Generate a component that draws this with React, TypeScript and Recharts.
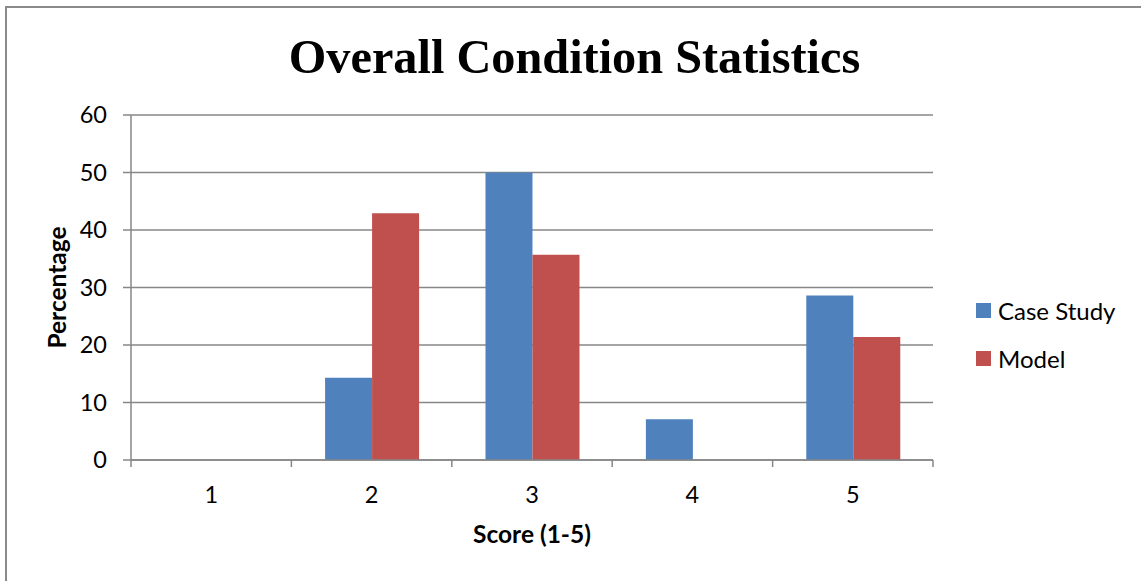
import React from 'react';
import { BarChart, Bar, XAxis, YAxis, CartesianGrid, Label } from 'recharts';

// Score categories and the share (%) of ratings in each
const scores = ['1', '2', '3', '4', '5'];
const caseStudy = [0, 14.3, 50, 7.1, 28.6];
const model = [0, 42.9, 35.7, 0, 21.4];
const yTicks = [0, 10, 20, 30, 40, 50, 60];

const seriesNames = ['Case Study', 'Model'];
const seriesColors = ['#4F81BD', '#C0504D'];

const data = scores.map((s, i) => ({ score: s, caseStudy: caseStudy[i], model: model[i] }));

const W = 1141;
const H = 581;
const GRID = '#878787';
const SANS = 'Lato, "Liberation Sans", sans-serif';

// Category tick: label at the band centre, tick marks at the band edges
const XTick = (props: any) => {
  const { x, y, payload, index, visibleTicksCount } = props;
  const half = payload && payload.offset ? payload.offset : 0;
  const last = index === visibleTicksCount - 1;
  return (
    <g>
      <line x1={x - half} x2={x - half} y1={y} y2={y + 7} stroke={GRID} strokeWidth={1.5} />
      {last && <line x1={x + half} x2={x + half} y1={y} y2={y + 7} stroke={GRID} strokeWidth={1.5} />}
      <text x={x} y={y + 43} textAnchor="middle" fontFamily={SANS} fontSize={23.5} fill="#000">
        {payload.value}
      </text>
    </g>
  );
};

const XTitle = (props: any) => {
  const { viewBox } = props;
  return (
    <text
      x={viewBox.x + viewBox.width / 2}
      y={viewBox.y + 83}
      textAnchor="middle"
      fontFamily={SANS}
      fontWeight={700}
      fontSize={24.5}
      fill="#000"
    >
      Score (1-5)
    </text>
  );
};

const YTitle = (props: any) => {
  const { viewBox } = props;
  const cx = viewBox.x + 66;
  const cy = viewBox.y + viewBox.height / 2;
  return (
    <text
      x={cx}
      y={cy}
      transform={`rotate(-90, ${cx}, ${cy})`}
      textAnchor="middle"
      fontFamily={SANS}
      fontWeight={700}
      fontSize={24.5}
      fill="#000"
    >
      Percentage
    </text>
  );
};

export default function App() {
  return (
    <div
      style={{
        position: 'fixed',
        left: 0,
        top: 0,
        width: W,
        height: H,
        overflow: 'hidden',
        background: '#fff',
      }}
    >
      <div
        style={{
          position: 'absolute',
          left: 5,
          top: 6,
          width: 1300,
          height: 800,
          border: '2px solid #8a8a8a',
        }}
      />
      <div
        style={{
          position: 'absolute',
          left: 0,
          width: W,
          top: 28,
          textAlign: 'center',
          fontFamily: '"Liberation Serif", "Times New Roman", serif',
          fontWeight: 700,
          fontSize: 48.3,
          lineHeight: '58px',
          paddingLeft: 8,
          boxSizing: 'border-box',
          color: '#000',
        }}
      >
        Overall Condition Statistics
      </div>
      <div style={{ position: 'absolute', left: 0, top: 0 }}>
        <BarChart
          width={W}
          height={H}
          data={data}
          margin={{ top: 115, right: 208, bottom: 0, left: 0 }}
          barCategoryGap="21%"
          barGap={0}
        >
          <CartesianGrid vertical={false} stroke={GRID} strokeWidth={1.5} />
          <XAxis
            dataKey="score"
            height={121}
            axisLine={{ stroke: GRID, strokeWidth: 1.5 }}
            tickLine={false}
            tickSize={0}
            tickMargin={0}
            tick={<XTick />}
            interval={0}
          >
            <Label content={<XTitle />} />
          </XAxis>
          <YAxis
            width={131}
            domain={[0, 60]}
            ticks={yTicks}
            axisLine={{ stroke: GRID, strokeWidth: 1.5 }}
            tickLine={{ stroke: GRID, strokeWidth: 1.5 }}
            tickSize={8}
            tickMargin={16}
            tick={{ fontFamily: SANS, fontSize: 23.5, fill: '#000' }}
          >
            <Label content={<YTitle />} />
          </YAxis>
          <Bar dataKey="caseStudy" name={seriesNames[0]} fill={seriesColors[0]} isAnimationActive={false} />
          <Bar dataKey="model" name={seriesNames[1]} fill={seriesColors[1]} isAnimationActive={false} />
        </BarChart>
      </div>
      <div style={{ position: 'absolute', left: 976, top: 286, fontFamily: SANS, fontSize: 24, color: '#000' }}>
        {seriesNames.map((n, i) => (
          <div key={n} style={{ display: 'flex', alignItems: 'center', height: 48 }}>
            <span
              style={{ display: 'inline-block', width: 15, height: 15, background: seriesColors[i], marginRight: 7 }}
            />
            <span>{n}</span>
          </div>
        ))}
      </div>
    </div>
  );
}
